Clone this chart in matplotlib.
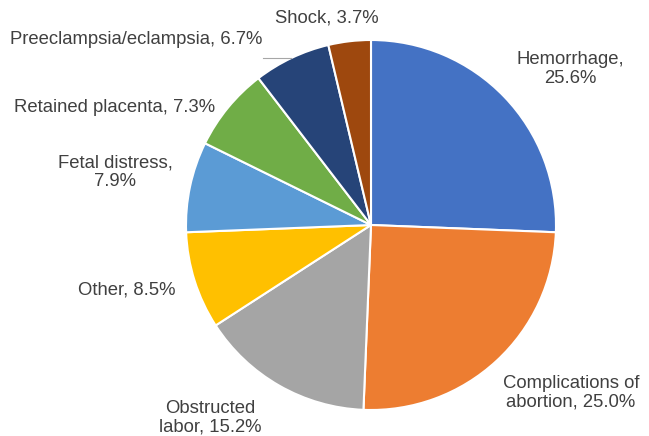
import matplotlib.pyplot as plt

plt.rcParams['font.family'] = ['Liberation Sans', 'DejaVu Sans']

causes = ["Hemorrhage", "Complications of abortion", "Obstructed labor", "Other",
          "Fetal distress", "Retained placenta", "Preeclampsia/eclampsia", "Shock"]
shares = [25.6, 25.0, 15.2, 8.5, 7.9, 7.3, 6.7, 3.7]
colors = ["#4472C4", "#ED7D31", "#A5A5A5", "#FFC000",
          "#5B9BD5", "#70AD47", "#264478", "#9E480E"]

# label text (line breaks as in the original) and positions in pixels from top-left
label_text = ["Hemorrhage,\n25.6%", "Complications of\nabortion, 25.0%",
              "Obstructed\nlabor, 15.2%", "Other, 8.5%", "Fetal distress,\n7.9%",
              "Retained placenta, 7.3%", "Preeclampsia/eclampsia, 6.7%", "Shock, 3.7%"]
label_pos = [(570, 69), (571, 393), (210, 418), (127, 290), (115, 172),
             (115, 107), (136, 40), (327, 18)]

W, H = 649, 436
fig = plt.figure(figsize=(W / 100, H / 100), dpi=100)
ax = fig.add_axes([0, 0, 1, 1])

ax.pie(shares, colors=colors, startangle=90, counterclock=False,
       center=(371, H - 225), radius=185,
       wedgeprops=dict(edgecolor="white", linewidth=1.5))

for txt, (x, y) in zip(label_text, label_pos):
    ax.text(x, H - y, txt, ha="center", va="center", fontsize=13.3,
            color="#404040", linespacing=1.1)

# leader line for the preeclampsia label
ax.plot([263, 291], [H - 58, H - 58], color="#A6A6A6", lw=0.8)

ax.set_xlim(0, W)
ax.set_ylim(0, H)
ax.set_aspect("equal")
ax.axis("off")

fig.savefig("out.png", dpi=100)
